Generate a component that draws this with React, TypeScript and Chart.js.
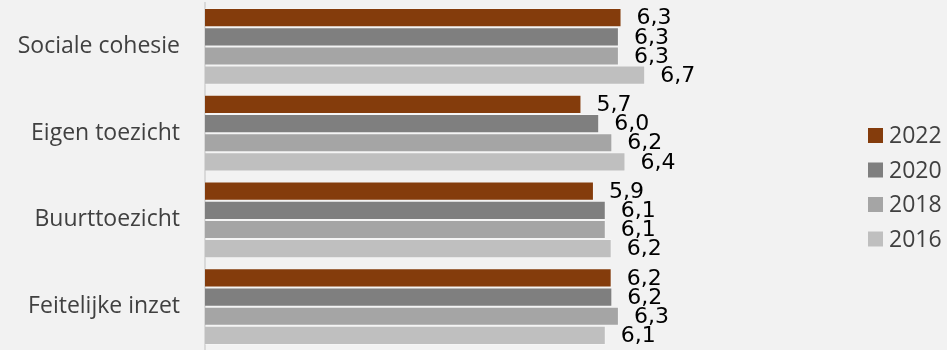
import React, { useEffect, useRef } from "react";
import { Chart, registerables } from "chart.js";

Chart.register(...registerables);

const categories = ["Sociale cohesie", "Eigen toezicht", "Buurttoezicht", "Feitelijke inzet"];
const seriesLabels = ["2022", "2020", "2018", "2016"];
const values2022 = [6.34, 5.73, 5.92, 6.19];
const values2020 = [6.3, 6.0, 6.1, 6.2];
const values2018 = [6.3, 6.2, 6.1, 6.3];
const values2016 = [6.7, 6.4, 6.19, 6.1];
const seriesColors = ["#843c0c", "#7f7f7f", "#a5a5a5", "#bfbfbf"];
const xMin = 0;
const xMax = 10;

const fmt = (v: number) => v.toFixed(1).replace(".", ",");

const valueLabelPlugin = {
  id: "valueLabels",
  afterDatasetsDraw(chart: any) {
    const ctx = chart.ctx;
    ctx.save();
    ctx.font = '22px "DejaVu Sans"';
    ctx.fillStyle = "#000000";
    ctx.textAlign = "left";
    ctx.textBaseline = "middle";
    chart.data.datasets.forEach((ds: any, di: number) => {
      const meta = chart.getDatasetMeta(di);
      meta.data.forEach((bar: any, i: number) => {
        ctx.fillText(fmt(ds.data[i]), bar.x + 15, bar.y + 1);
      });
    });
    ctx.restore();
  },
};

const legendPlugin = {
  id: "sideLegend",
  afterDraw(chart: any) {
    const ctx = chart.ctx;
    ctx.save();
    ctx.font = '23px "Open Sans"';
    ctx.textAlign = "left";
    ctx.textBaseline = "middle";
    const boxX = 868;
    const startY = 135.5;
    const step = 34.5;
    const box = 15;
    chart.data.datasets.forEach((ds: any, i: number) => {
      const cy = startY + i * step;
      ctx.fillStyle = ds.backgroundColor;
      ctx.fillRect(boxX, cy - box / 2, box, box);
      ctx.fillStyle = "#404040";
      ctx.fillText(ds.label, boxX + 21, cy + 1);
    });
    ctx.restore();
  },
};

export default function App() {
  const ref = useRef<HTMLCanvasElement | null>(null);

  useEffect(() => {
    if (!ref.current) return;
    const allValues = [values2022, values2020, values2018, values2016];
    const chart = new Chart(ref.current, {
      type: "bar",
      data: {
        labels: categories,
        datasets: seriesLabels.map((label, i) => ({
          label,
          data: allValues[i],
          backgroundColor: seriesColors[i],
          borderColor: "rgba(255,255,255,0.25)",
          borderWidth: 1,
          barPercentage: 1,
          categoryPercentage: 0.882,
        })),
      },
      options: {
        indexAxis: "y",
        responsive: false,
        animation: false,
        layout: { padding: { top: 3, bottom: -1, left: 0, right: 85 } },
        plugins: {
          legend: { display: false },
          tooltip: { enabled: false },
        },
        scales: {
          x: {
            display: false,
            min: xMin,
            max: xMax,
          },
          y: {
            afterFit: (scale: any) => {
              scale.width = 205;
              scale.paddingTop = 0;
              scale.paddingBottom = 0;
            },
            grid: { display: false, drawTicks: false },
            border: { display: true, color: "#d9d9d9", width: 2 },
            ticks: {
              padding: 25,
              color: "#404040",
              font: { family: '"Open Sans"', size: 23 },
            },
          },
        },
      },
      plugins: [valueLabelPlugin, legendPlugin],
    });
    return () => chart.destroy();
  }, []);

  return (
    <div
      style={{
        position: "absolute",
        left: 0,
        top: 0,
        width: 947,
        height: 350,
        overflow: "hidden",
        background: "#f2f2f2",
      }}
    >
      <canvas ref={ref} width={947} height={350} style={{ display: "block" }} />
    </div>
  );
}
